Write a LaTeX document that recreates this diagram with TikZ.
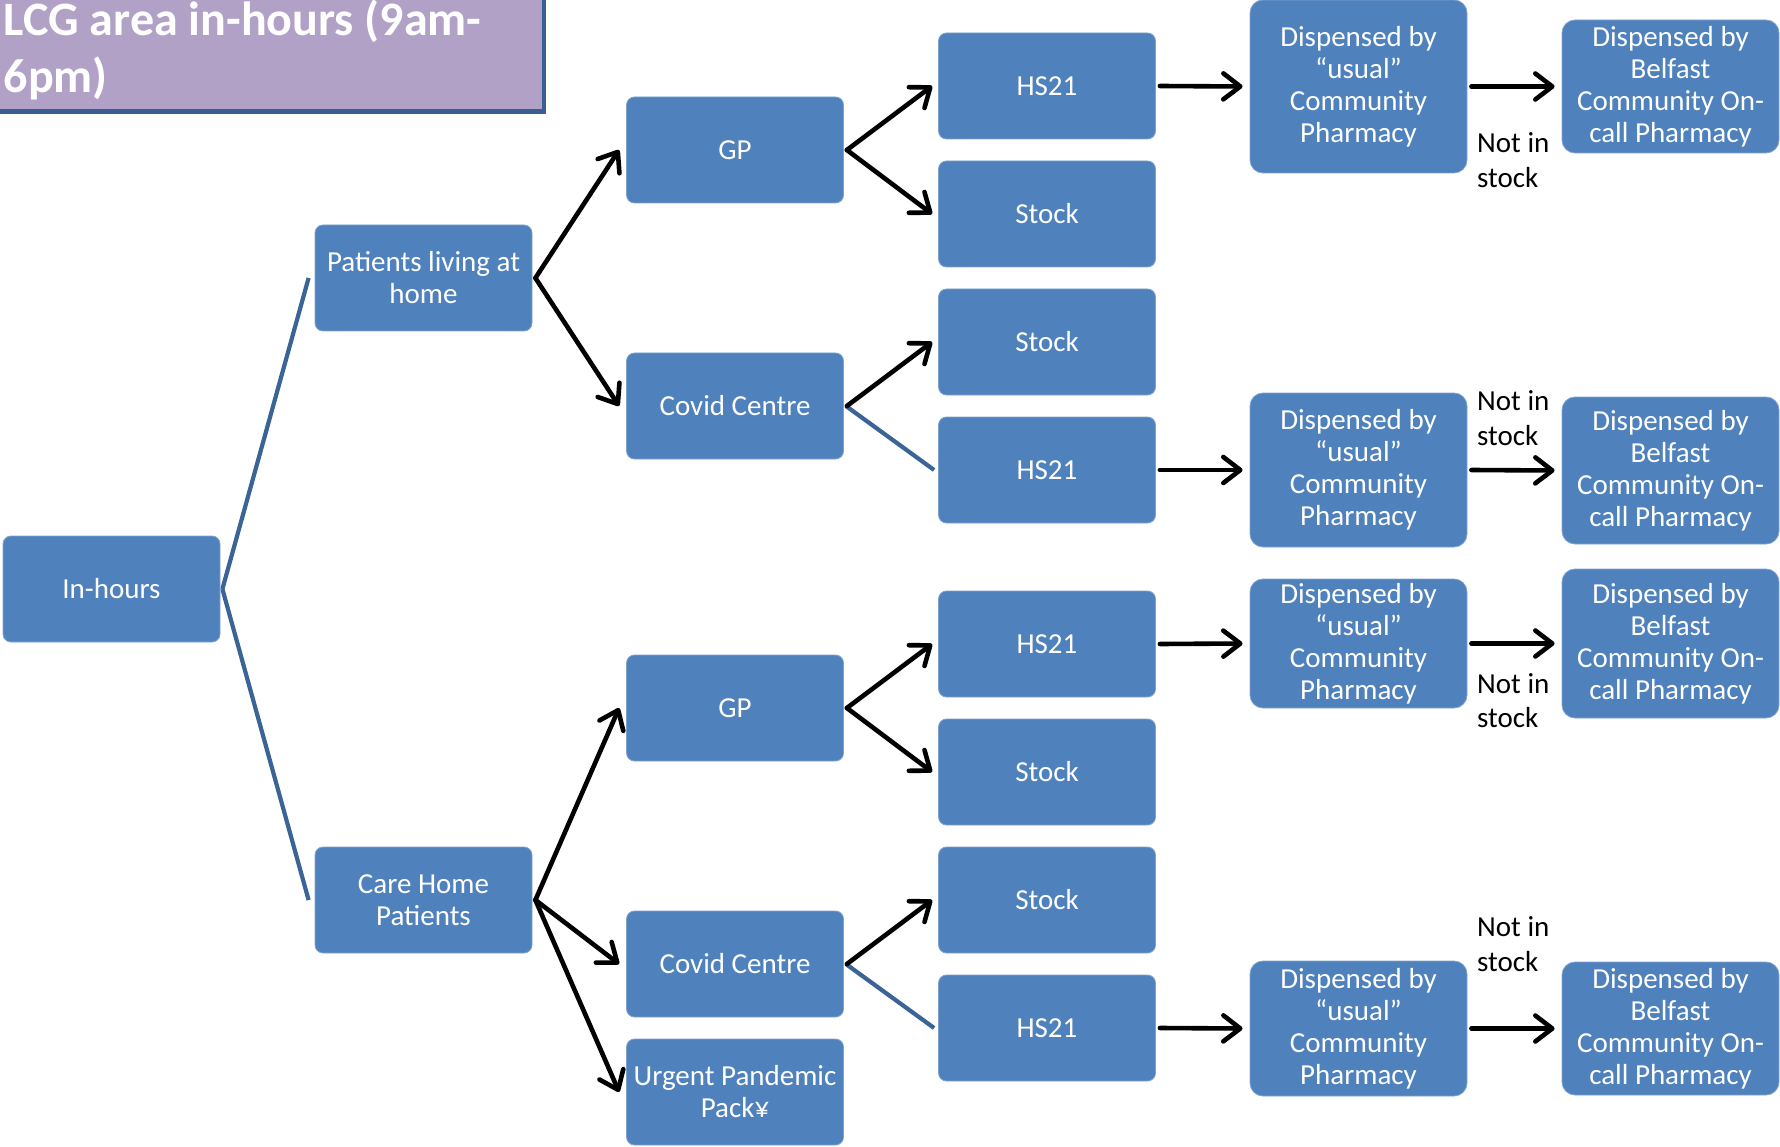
\documentclass[tikz,border=0pt]{standalone}
\usepackage{fontspec}
\setmainfont{Carlito}
\usetikzlibrary{arrows.meta}

\definecolor{boxblue}{HTML}{4F81BD}
\definecolor{boxedge}{HTML}{7FA3D0}
\definecolor{linkblue}{HTML}{3A6496}
\definecolor{titlefill}{HTML}{B1A1C7}
\definecolor{titleedge}{HTML}{3B5E91}

\begin{document}
\begin{tikzpicture}[x=1pt,y=-1pt,
  box/.style={draw=boxedge, line width=0.8pt, fill=boxblue, rounded corners=8pt,
    minimum width=217pt, minimum height=106pt, inner sep=0pt, text=white,
    align=center, font=\fontsize{29}{32}\selectfont},
  tallbox/.style={box, rounded corners=13pt},
  arr/.style={draw=black, line width=4.6pt, line cap=round,
    -{Straight Barb[length=17pt,width=26pt,round]}},
  link/.style={draw=linkblue, line width=4.2pt},
  note/.style={anchor=base west, inner sep=0pt, font=\fontsize{29}{35}\selectfont},
  titletext/.style={anchor=base west, inner sep=0pt, text=white,
    font=\bfseries\fontsize{48}{57}\selectfont},
]
\useasboundingbox (0,0) rectangle (1780,1147);

% heading panel, partly running off the top-left corner
\path[fill=titlefill, draw=titleedge, line width=4.5pt] (-20,-20) rectangle (544,111.5);
\node[titletext] (titleA) at (3.5,36) {LCG area in-hours (9am-};
\node[titletext] (titleB) at (3.5,93) {6pm)};

% column 0 and 1
\node[box] (inhours) at (111.5,589) {In-hours};
\node[box] (home) at (423.5,278) {Patients living at\\home};
\node[box] (care) at (423.5,900) {Care Home\\Patients};

% column 2
\node[box] (gpA)  at (735,150)  {GP};
\node[box] (covA) at (735,406)  {Covid Centre};
\node[box] (gpB)  at (735,708)  {GP};
\node[box] (covB) at (735,964)  {Covid Centre};
\node[box] (upp)  at (735,1092) {Urgent Pandemic\\Pack¥};

% column 3
\node[box] (hsA) at (1047,86)   {HS21};
\node[box] (stA) at (1047,214)  {Stock};
\node[box] (stB) at (1047,342)  {Stock};
\node[box] (hsB) at (1047,470)  {HS21};
\node[box] (hsC) at (1047,644)  {HS21};
\node[box] (stC) at (1047,772)  {Stock};
\node[box] (stD) at (1047,900)  {Stock};
\node[box] (hsD) at (1047,1028) {HS21};

% column 4: usual community pharmacy
\node[tallbox, minimum height=173pt] (usualA) at (1358.5,86.5)  {Dispensed by\\“usual”\\Community\\Pharmacy};
\node[tallbox, minimum height=154pt] (usualB) at (1358.5,470)   {Dispensed by\\“usual”\\Community\\Pharmacy};
\node[tallbox, minimum height=129pt] (usualC) at (1358.5,643.5) {Dispensed by\\“usual”\\Community\\Pharmacy};
\node[tallbox, minimum height=135pt] (usualD) at (1358.5,1028.5){Dispensed by\\“usual”\\Community\\Pharmacy};

% column 5: Belfast on-call pharmacy
\node[tallbox, minimum height=133pt] (belfA) at (1670.5,86.5)  {Dispensed by\\Belfast\\Community On-\\call Pharmacy};
\node[tallbox, minimum height=147pt] (belfB) at (1670.5,470.5)  {Dispensed by\\Belfast\\Community On-\\call Pharmacy};
\node[tallbox, minimum height=149pt] (belfC) at (1670.5,643.5)  {Dispensed by\\Belfast\\Community On-\\call Pharmacy};
\node[tallbox, minimum height=133pt] (belfD) at (1670.5,1028.5) {Dispensed by\\Belfast\\Community On-\\call Pharmacy};

% plain links
\draw[link] ([xshift=2pt]inhours.east) -- ([xshift=-6pt]home.west);
\draw[link] ([xshift=2pt]inhours.east) -- ([xshift=-6pt]care.west);
\draw[link] ([xshift=2pt]covA.east) -- ([xshift=-4pt]hsB.west);
\draw[link] ([xshift=2pt]covB.east) -- ([xshift=-4pt]hsD.west);

% arrows
\draw[arr] ([xshift=3pt]home.east) -- ([xshift=-7pt]gpA.west);
\draw[arr] ([xshift=3pt]home.east) -- ([xshift=-7pt]covA.west);
\draw[arr] ([xshift=3pt]gpA.east) -- ([xshift=-6pt]hsA.west);
\draw[arr] ([xshift=3pt]gpA.east) -- ([xshift=-6pt]stA.west);
\draw[arr] ([xshift=3pt]covA.east) -- ([xshift=-6pt]stB.west);
\draw[arr] ([xshift=3pt]care.east) -- ([xshift=-7pt]gpB.west);
\draw[arr] ([xshift=3pt]care.east) -- ([xshift=-7pt]covB.west);
\draw[arr] ([xshift=3pt]care.east) -- ([xshift=-7pt]upp.west);
\draw[arr] ([xshift=3pt]gpB.east) -- ([xshift=-6pt]hsC.west);
\draw[arr] ([xshift=3pt]gpB.east) -- ([xshift=-6pt]stC.west);
\draw[arr] ([xshift=3pt]covB.east) -- ([xshift=-6pt]stD.west);

\draw[arr] ([xshift=4pt]hsA.east) -- ([xshift=-7pt]usualA.west);
\draw[arr] ([xshift=4pt]hsB.east) -- ([xshift=-7pt]usualB.west);
\draw[arr] ([xshift=4pt]hsC.east) -- ([xshift=-7pt]usualC.west);
\draw[arr] ([xshift=4pt]hsD.east) -- ([xshift=-7pt]usualD.west);

\draw[arr] ([xshift=4pt]usualA.east) -- ([xshift=-7pt]belfA.west);
\draw[arr] ([xshift=4pt]usualB.east) -- ([xshift=-7pt]belfB.west);
\draw[arr] ([xshift=4pt]usualC.east) -- ([xshift=-7pt]belfC.west);
\draw[arr] ([xshift=4pt]usualD.east) -- ([xshift=-7pt]belfD.west);

% "Not in stock" notes
\node[note] (noteA1) at (1477,153) {Not in};
\node[note] (noteA2) at (1477,188) {stock};
\node[note] (noteB1) at (1477,410) {Not in};
\node[note] (noteB2) at (1477,445) {stock};
\node[note] (noteC1) at (1477,693) {Not in};
\node[note] (noteC2) at (1477,727) {stock};
\node[note] (noteD1) at (1477,936) {Not in};
\node[note] (noteD2) at (1477,971) {stock};
\end{tikzpicture}
\end{document}
